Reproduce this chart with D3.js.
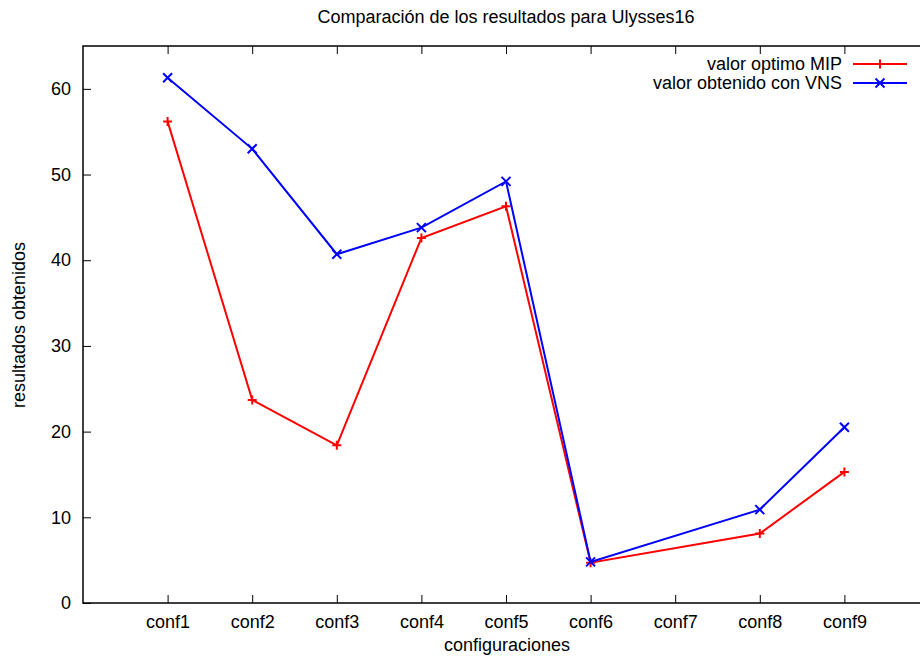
<!DOCTYPE html>
<html>
<head>
<meta charset="utf-8">
<script src="https://cdn.jsdelivr.net/npm/d3@7"></script>
<style>
  body { margin: 0; background: #fff; }
  svg text { font-family: "Liberation Sans", Arial, sans-serif; font-size: 18px; fill: #000; }
</style>
</head>
<body>
<svg id="chart" width="920" height="664"></svg>
<script>
// chart data
const categories = ['conf1', 'conf2', 'conf3', 'conf4', 'conf5', 'conf6', 'conf7', 'conf8', 'conf9'];
const mipValues = [56.2, 23.7, 18.4, 42.6, 46.3, 4.7, null, 8.1, 15.3];
const vnsValues = [61.3, 53.0, 40.7, 43.8, 49.2, 4.8, null, 10.9, 20.5];
const yTicks = [0, 10, 20, 30, 40, 50, 60];

const series = [
    { name: 'valor optimo MIP', values: mipValues, color: '#ff0000', marker: 'plus' },
    { name: 'valor obtenido con VNS', values: vnsValues, color: '#0000ff', marker: 'cross' }
];

const svg = d3.select('#chart');
const plotLeft = 83, plotRight = 929, plotTop = 46, plotBottom = 603;

const x = d3.scaleLinear().domain([0, 10]).range([plotLeft, plotRight]);
const y = d3.scaleLinear().domain([0, 65]).range([plotBottom, plotTop]);

// frame
svg.append('rect')
    .attr('x', plotLeft).attr('y', plotTop)
    .attr('width', plotRight - plotLeft).attr('height', plotBottom - plotTop)
    .attr('fill', 'none').attr('stroke', '#000').attr('stroke-width', 1.5);

// axes with inward ticks
const xAxis = d3.axisBottom(x)
    .tickValues(d3.range(1, 10))
    .tickFormat(d => categories[d - 1])
    .tickSize(-8).tickPadding(25);
const gx = svg.append('g').attr('transform', `translate(0,${plotBottom})`).call(xAxis);

const xTop = d3.axisTop(x).tickValues(d3.range(1, 10)).tickFormat('').tickSize(-8);
const gxt = svg.append('g').attr('transform', `translate(0,${plotTop})`).call(xTop);

const yAxis = d3.axisLeft(y).tickValues(yTicks).tickSize(-8).tickPadding(12);
const gy = svg.append('g').attr('transform', `translate(${plotLeft},0)`).call(yAxis);

[gx, gxt, gy].forEach(g => {
    g.select('.domain').remove();
    g.selectAll('.tick line').attr('stroke', '#000').attr('stroke-width', 1);
    g.selectAll('text').attr('font-size', null).attr('font-family', null);
});
gx.selectAll('text').attr('dy', 0);

// series lines and markers
const line = d3.line()
    .defined(d => d.v != null)
    .x(d => x(d.i + 1))
    .y(d => y(d.v));

function drawMarker(g, type, cx, cy, color) {
    const s = type === 'plus' ? 4.5 : 4.5;
    const p = type === 'plus'
        ? `M${cx - s},${cy}L${cx + s},${cy}M${cx},${cy - s}L${cx},${cy + s}`
        : `M${cx - s},${cy - s}L${cx + s},${cy + s}M${cx - s},${cy + s}L${cx + s},${cy - s}`;
    g.append('path').attr('d', p).attr('stroke', color).attr('stroke-width', 2).attr('fill', 'none');
}

series.forEach(s => {
    const pts = s.values.map((v, i) => ({ v, i })).filter(d => d.v != null);
    svg.append('path')
        .datum(pts)
        .attr('d', line)
        .attr('fill', 'none')
        .attr('stroke', s.color)
        .attr('stroke-width', 2);
    const mg = svg.append('g');
    pts.forEach(d => drawMarker(mg, s.marker, x(d.i + 1), y(d.v), s.color));
});

// legend
const legend = svg.append('g');
series.forEach((s, i) => {
    const ly = 64 + i * 19;
    legend.append('text')
        .attr('x', 842).attr('y', ly).attr('dy', '0.35em')
        .attr('text-anchor', 'end').text(s.name);
    legend.append('line')
        .attr('x1', 853).attr('x2', 907).attr('y1', ly).attr('y2', ly)
        .attr('stroke', s.color).attr('stroke-width', 2);
    drawMarker(legend, s.marker, 880, ly, s.color);
});

// titles
svg.append('text')
    .attr('x', 506).attr('y', 23).attr('text-anchor', 'middle')
    .text('Comparación de los resultados para Ulysses16');
svg.append('text')
    .attr('x', 507).attr('y', 651).attr('text-anchor', 'middle')
    .text('configuraciones');
svg.append('text')
    .attr('transform', 'translate(25,325) rotate(-90)')
    .attr('text-anchor', 'middle')
    .text('resultados obtenidos');
</script>
</body>
</html>
